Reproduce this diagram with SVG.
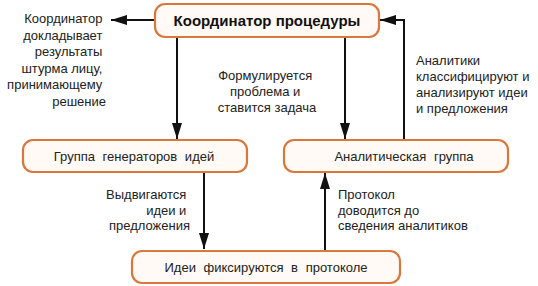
<svg xmlns="http://www.w3.org/2000/svg" width="538" height="286" viewBox="0 0 538 286">
<style>
.box{fill:#fffaf5;stroke:#d9773c;stroke-width:2.2}
.t{font-family:"Liberation Sans",Arial,sans-serif;font-size:13px;fill:#222}
.w{word-spacing:4px}
.tb{font-family:"Liberation Sans",Arial,sans-serif;font-size:15px;font-weight:bold;fill:#111}
.c{stroke:#111;stroke-width:2;fill:none}
</style>
<defs>
<marker id="ah" viewBox="0 0 16 10" refX="16" refY="5" markerWidth="16" markerHeight="10" markerUnits="userSpaceOnUse" orient="auto">
<path d="M0,0 L16,5 L0,10 Z" fill="#111"/>
</marker>
</defs>
<rect width="538" height="286" fill="#ffffff"/>
<g id="connectors">
<path class="c" d="M155,20 H111" marker-end="url(#ah)"/>
<path class="c" d="M177,37 V139" marker-end="url(#ah)"/>
<path class="c" d="M345,37 V139" marker-end="url(#ah)"/>
<path class="c" d="M404,139 V20 H380" marker-end="url(#ah)"/>
<path class="c" d="M204,172 V249" marker-end="url(#ah)"/>
<path class="c" d="M325,250 V173" marker-end="url(#ah)"/>
</g>
<g id="coordinator">
<rect class="box" x="155" y="4" width="224" height="33" rx="10"/>
<text class="tb" x="267" y="25.5" text-anchor="middle">Координатор  процедуры</text>
</g>
<g id="generators">
<rect class="box" x="23" y="140" width="224" height="32" rx="10"/>
<text class="t w" x="134" y="161" text-anchor="middle">Группа  генераторов  идей</text>
</g>
<g id="analytics">
<rect class="box" x="284" y="140" width="224" height="32" rx="10"/>
<text class="t w" x="404" y="161" text-anchor="middle">Аналитическая  группа</text>
</g>
<g id="protocol">
<rect class="box" x="132" y="251" width="268" height="32" rx="10"/>
<text class="t w" x="266" y="272" text-anchor="middle">Идеи  фиксируются  в  протоколе</text>
</g>
<g id="labels">
<text class="t" text-anchor="end">
<tspan x="106" y="23">Координатор</tspan>
<tspan x="106" y="39.5">докладывает</tspan>
<tspan x="106" y="56">результаты</tspan>
<tspan x="106" y="72.5">штурма лицу,</tspan>
<tspan x="106" y="89">принимающему</tspan>
<tspan x="106" y="105.5">решение</tspan>
</text>
<text class="t" text-anchor="middle">
<tspan x="267" y="80">Формулируется</tspan>
<tspan x="267" y="96">проблема и</tspan>
<tspan x="267" y="112">ставится задача</tspan>
</text>
<text class="t">
<tspan x="416" y="65">Аналитики</tspan>
<tspan x="416" y="81">классифицируют и</tspan>
<tspan x="416" y="97">анализируют идеи</tspan>
<tspan x="416" y="113">и предложения</tspan>
</text>
<text class="t" text-anchor="end">
<tspan x="190" y="199">Выдвигаются</tspan>
<tspan x="190" y="214.5">идеи и</tspan>
<tspan x="190" y="230">предложения</tspan>
</text>
<text class="t">
<tspan x="338" y="199">Протокол</tspan>
<tspan x="338" y="214.5">доводится до</tspan>
<tspan x="338" y="230">сведения аналитиков</tspan>
</text>
</g>
</svg>
